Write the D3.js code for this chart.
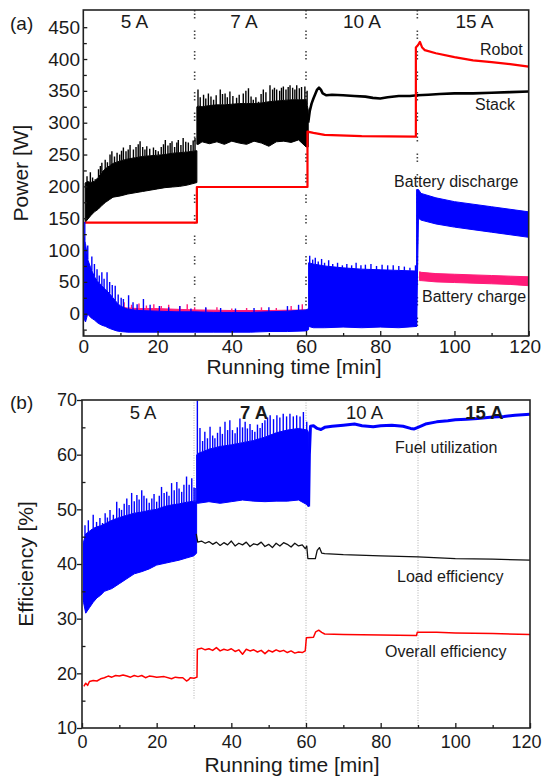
<!DOCTYPE html>
<html>
<head>
<meta charset="utf-8">
<script src="https://cdn.jsdelivr.net/npm/d3@7"></script>
<style>
  body { margin: 0; background: #fff; }
  svg { display: block; }
  text { font-family: 'Liberation Sans', Arial, sans-serif; fill: #1a1a1a; }
</style>
</head>
<body>
<svg id="chart"></svg>
<script>
/* Power (a) and efficiency (b) of the fuel cell robot vs running time */

const currents = ['5 A', '7 A', '10 A', '15 A'];
const stepTimes = [30, 60, 90];
const timeTicks = [0, 20, 40, 60, 80, 100, 120];
const timeMinor = [10, 30, 50, 70, 90, 110];
const powerTicks = [0, 50, 100, 150, 200, 250, 300, 350, 400, 450];
const powerMinor = [-25, 25, 75, 125, 175, 225, 275, 325, 375, 425];
const effTicks = [10, 20, 30, 40, 50, 60, 70];
const effMinor = [15, 25, 35, 45, 55, 65];

// --- (a) Stack power, noisy band while running at 5 A and 7 A
const stack5Time = [0.5, 1, 2, 3, 4, 5, 6, 7, 8, 10, 12, 14, 16, 18, 20, 22, 24, 26, 28, 30.6];
const stack5Lo = [143, 147, 154, 160, 164, 170, 175, 179, 183, 185, 188, 190, 192, 194, 196, 198, 199, 200, 202, 206];
const stack5Hi = [205, 208, 206, 208, 214, 222, 228, 232, 236, 240, 243, 245, 247, 248, 249, 250, 252, 253, 254, 256];
const stack5Peaks = [[1.0, 216], [1.9, 222], [2.5, 214], [3.2, 211], [4.1, 227], [4.6, 232], [5.0, 237], [5.9, 242],
  [6.5, 238], [7.2, 250], [7.7, 255], [8.4, 247], [9.1, 253], [9.8, 250], [10.3, 256], [10.8, 261], [11.5, 255],
  [12.1, 258], [12.6, 265], [13.5, 258], [14.2, 262], [14.8, 266], [15.3, 271], [16.0, 262], [16.6, 258], [17.1, 263],
  [17.9, 259], [18.9, 261], [19.5, 257], [20.2, 255], [21.0, 262], [21.6, 266], [22.1, 273], [22.8, 264], [23.4, 268],
  [23.9, 271], [24.6, 262], [25.2, 269], [25.6, 273], [26.3, 265], [26.9, 276], [27.6, 270], [28.3, 269], [29.0, 265],
  [29.6, 272], [30.1, 276]];

const stack7Time = [30.6, 31, 32, 34, 36, 38, 40, 42, 44, 46, 48, 50, 52, 54, 56, 58, 60, 60.6];
const stack7Lo = [266, 266, 270, 267, 270, 266, 271, 268, 266, 271, 268, 263, 270, 271, 269, 273, 262, 262];
const stack7Hi = [325, 326, 325, 327, 328, 328, 329, 330, 330, 330, 331, 333, 334, 335, 336, 336, 336, 320];
const stack7Peaks = [[30.9, 352], [31.5, 340], [32.4, 344], [33.0, 338], [33.7, 346], [34.4, 341], [35.1, 336],
  [35.8, 343], [36.9, 352], [37.5, 345], [38.2, 346], [38.8, 340], [39.5, 349], [40.3, 342], [41.3, 339], [42.0, 344],
  [43.1, 346], [43.8, 350], [44.5, 354], [45.2, 341], [45.8, 336], [46.5, 340], [47.2, 333], [47.9, 345], [48.5, 352],
  [49.2, 348], [50.3, 359], [51.0, 352], [51.5, 355], [52.1, 352], [52.9, 350], [53.4, 355], [53.9, 357], [54.6, 352],
  [55.2, 356], [55.7, 359], [56.4, 355], [57.0, 352], [57.5, 359], [58.2, 354], [58.8, 356], [59.7, 357], [60.3, 350]];

// stack power after it settles (10 A and 15 A)
const stackTail = [[60.6, 300], [61.0, 318], [61.5, 330], [62.0, 338], [62.5, 345], [63.0, 352], [63.5, 355],
  [64.0, 352], [64.5, 346], [65.5, 343], [67, 344], [70, 343], [73, 342], [76, 341], [78, 339], [80, 338], [82, 340],
  [85, 342], [88, 342], [90, 343], [93, 344], [96, 345], [100, 346], [105, 346], [110, 347], [115, 348], [120, 349]];

// robot power demand
const robotPower = [[0.4, 143], [30.6, 143], [30.6, 199], [60.4, 199], [60.4, 286], [62, 284], [65, 281], [75, 279],
  [89.6, 278], [89.6, 418], [90.2, 422], [90.7, 427], [91.3, 418], [92, 414], [95, 409], [100, 403], [105, 398],
  [110, 395], [115, 392], [120, 388]];

// battery discharge
const dis1Time = [0.2, 0.6, 1.2, 2, 3, 4, 5, 6, 7, 8, 9, 10, 12, 15, 20, 25, 30, 35, 40, 45, 50, 55, 60, 60.7];
const dis1Lo = [-8, -13, 0, -6, -10, -15, -18, -20, -23, -25, -27, -28, -29, -29, -29, -29, -29, -29, -29, -29, -28, -28, -27, -25];
const dis1Hi = [120, 110, 85, 72, 58, 50, 44, 38, 32, 25, 18, 12, 7, 5, 4, 3, 3, 2, 2, 2, 3, 4, 6, 8];
const dis1Peaks = [[0.4, 144], [1.2, 107], [2.3, 90], [3.0, 78], [3.7, 70], [4.3, 60], [5.0, 65], [5.6, 55], [6.4, 65],
  [7.1, 50], [7.8, 45], [8.6, 44], [9.4, 30], [10.2, 25], [10.8, 23], [12.2, 29], [13.4, 18], [14.5, 15], [16.2, 23],
  [18.0, 14], [20.5, 12], [23, 10], [26, 12], [29, 8], [33, 10], [37, 9], [41, 8], [46, 9], [50, 10], [55, 12], [58, 14]];

const dis2Time = [60.7, 62, 65, 70, 75, 80, 85, 89.8];
const dis2Lo = [-20, -22, -22, -21, -22, -21, -22, -20];
const dis2Hi = [80, 78, 75, 72, 70, 69, 68, 67];
const dis2Peaks = [[61.0, 91], [61.8, 85], [62.5, 88], [63.3, 82], [64.2, 86], [65.0, 80], [66.1, 84], [67.2, 78],
  [68.5, 80], [69.8, 76], [71, 78], [72.3, 76], [73.5, 80], [74.8, 76], [76, 77], [77.5, 78], [79, 75], [80.5, 77],
  [82, 76], [83.5, 76], [85, 75], [86.5, 74], [88, 72], [89.5, 76]];

const dis3Time = [89.8, 90.3, 91, 95, 100, 105, 110, 115, 120];
const dis3Lo = [-20, 150, 147, 141, 136, 132, 128, 124, 120];
const dis3Hi = [195, 195, 189, 182, 176, 172, 168, 164, 160];

// battery charge
const chg1Time = [0.3, 1, 2, 3, 5, 7, 9, 12, 15, 20, 30, 40, 50, 60];
const chg1Lo = [-5, 0, -5, -8, -10, -12, -12, -12, -12, -12, -12, -12, -12, -12];
const chg1Hi = [15, 28, 22, 18, 14, 11, 10, 9, 8, 8, 6, 5, 5, 6];
const chg1Peaks = [[0.8, 38], [1.3, 32], [2, 26], [2.8, 22], [3.5, 28], [4.4, 20], [5.2, 18], [6, 22], [7, 16], [8, 15],
  [9.5, 14], [11, 18], [13, 14], [15, 16], [17, 13], [19, 15], [21, 12], [23, 14], [26, 12], [28, 15], [30, 10], [33, 9],
  [36, 10], [40, 8], [44, 9], [48, 10], [52, 9], [56, 12], [59, 15]];

const chg3Time = [90.6, 91, 95, 100, 105, 110, 115, 120];
const chg3Lo = [52, 52, 50, 49, 48, 47, 46, 44];
const chg3Hi = [66, 65, 63, 62, 61, 60, 59, 58];

// --- (b) Fuel utilization, noisy band at 5 A and 7 A
const fuel5Time = [0.4, 1, 2, 3, 4, 5, 6, 8, 10, 12, 14, 16, 18, 20, 22, 24, 26, 28, 30, 30.7];
const fuel5Lo = [33, 31, 32, 33, 33.8, 34.3, 35, 35.5, 36.4, 37.3, 38.2, 38.6, 39.1, 39.8, 40.1, 40.4, 40.7, 41.1, 41.5, 42];
const fuel5Hi = [44, 45.5, 46, 46.5, 46.8, 47, 47.3, 48, 48.5, 48.9, 49.3, 49.5, 49.8, 50, 50.5, 50.8, 51, 51.3, 51.5, 51.5];
const fuel5Peaks = [[0.8, 47.1], [1.3, 45.5], [1.7, 48], [2.6, 45.9], [3.0, 49], [3.5, 46.5], [3.9, 47.7], [4.8, 48.4],
  [5.5, 47.5], [6.2, 49.3], [6.8, 48.5], [7.5, 49.9], [8.4, 49], [9.3, 51.4], [10.0, 50.2], [10.6, 49.9], [11.3, 51],
  [12.0, 52], [12.6, 50.8], [13.3, 53], [14.0, 51.5], [14.7, 52.6], [15.3, 51.8], [16.0, 53.5], [16.6, 52.5], [17.3, 52],
  [18.0, 51.2], [18.7, 52], [19.3, 52.8], [20.0, 51.4], [20.7, 52.5], [21.3, 54.1], [22.0, 53], [22.7, 53.2], [23.3, 52.5],
  [24.0, 54.8], [24.7, 53.5], [25.4, 55], [26.0, 53.8], [26.7, 53.2], [27.3, 54.5], [28.0, 56], [28.7, 54.5], [29.4, 55.7],
  [30.0, 54], [30.3, 53.9]];

const fuel7Time = [30.7, 31, 34, 37, 40, 43, 46, 49, 52, 55, 58, 60.4, 60.7];
const fuel7Lo = [51.1, 51.1, 51.4, 51.1, 51.4, 51.7, 51.5, 51.4, 51.5, 51.5, 51.7, 50.8, 50.5];
const fuel7Hi = [60, 60.2, 61, 61.5, 61.8, 62.2, 62.6, 63.2, 64, 64.5, 64.8, 64.5, 64];
const fuel7Peaks = [[30.9, 69.9], [31.6, 64.9], [32.3, 62.5], [32.9, 64.2], [33.6, 63], [34.3, 65.1], [35.0, 63.5],
  [35.6, 63], [36.3, 64], [37.0, 65.1], [37.6, 63.8], [38.3, 66], [39.0, 64.5], [39.6, 66.3], [40.3, 64.5], [41.0, 63.9],
  [41.6, 65], [42.3, 66.6], [43.0, 65], [43.7, 66], [44.3, 64.8], [45.0, 65.6], [45.6, 64.5], [46.3, 64.2], [47.0, 65.5],
  [47.7, 64.9], [48.3, 65.8], [49.0, 66.3], [49.7, 66.8], [50.4, 67.2], [51.3, 66.5], [52.2, 67.2], [53.0, 66.8],
  [53.9, 67.5], [54.8, 67], [55.7, 67.5], [56.6, 67], [57.5, 67.2], [58.4, 67], [59.3, 67.8], [60.2, 66]];

const fuelTail = [[60.7, 50.5], [60.9, 60], [61.2, 65.2], [62, 65.3], [63, 64.8], [64, 64.6], [65, 65.0], [67, 65.2],
  [70, 65.4], [73, 65.6], [75, 65.3], [78, 65.1], [80, 65.3], [83, 65.4], [86, 65.2], [88, 64.8], [89, 64.7], [90, 65.0],
  [92, 65.6], [95, 66.0], [98, 66.2], [100, 66.4], [103, 66.5], [106, 66.6], [110, 66.9], [113, 67.0], [116, 67.2],
  [120, 67.4]];

const loadEff = [[30.6, 45.5], [31, 44], [32, 44.2], [33, 43.8], [34, 44.1], [35, 43.6], [36, 44], [37, 43.4], [38, 43.9],
  [39, 43.5], [40, 44.2], [41, 43.3], [42, 43.8], [43, 43.5], [44, 44], [45, 43.2], [46, 43.7], [47, 43.5], [48, 44],
  [49, 43.2], [50, 43.6], [51, 43], [52, 43.8], [53, 43.3], [54, 43.9], [55, 43.6], [56, 43.1], [57, 43.8], [58, 43.3],
  [59, 43.5], [59.8, 42.8], [60.2, 43.3], [60.5, 41], [62.5, 41], [63, 42.5], [63.6, 43], [64.2, 42], [65, 41.9],
  [70, 41.7], [80, 41.5], [90, 41.3], [100, 41], [110, 40.9], [120, 40.7]];

const overallEff = [[0.5, 17.6], [1, 18.2], [1.5, 17.8], [2, 18.5], [3, 18.7], [4, 18.6], [5, 19], [6, 19.2], [7, 19.5],
  [8, 19.3], [9, 19.6], [10, 19.5], [11, 19.7], [12, 19.5], [13, 19.3], [14, 19.6], [15, 19.4], [16, 19.6], [17, 19.2],
  [18, 19.5], [19, 19.4], [20, 19.3], [22, 19.4], [24, 19], [25, 19.3], [26, 19.2], [27, 19.2], [28, 18.6], [28.5, 18.8],
  [29, 19.2], [30, 19.1], [30.8, 19.3], [30.9, 24.4], [32, 24.6], [33, 24.3], [34, 24.5], [35, 24.2], [36, 24.7],
  [37, 24.1], [38, 24.4], [39, 24.2], [40, 24.5], [41, 24], [42, 24.3], [43, 23.5], [44, 24.4], [45, 24.1], [46, 24.3],
  [47, 23.9], [48, 24.2], [49, 23.6], [50, 24.2], [51, 23.9], [52, 24.3], [53, 24], [54, 24.2], [55, 23.8], [56, 24.1],
  [57, 23.7], [58, 23.9], [59, 23.8], [59.8, 24.1], [60.1, 26.5], [62, 26.6], [62.6, 27.6], [63.4, 27.9], [64.2, 27.5],
  [65, 27.2], [70, 27.1], [80, 27], [89.6, 26.9], [89.8, 27.5], [95, 27.5], [100, 27.4], [110, 27.3], [120, 27.1]];

/* ---------------------------------------------------------------- */

const W = 544, H = 778;
const BLUE = '#0000ff', RED = '#ff0000', PINK = '#ff1a78', BLACK = '#000';

const translate = (x, y) => `translate(${x}, ${y})`;

const svg = d3.select('#chart').attr('width', W).attr('height', H);
const defs = svg.append('defs');

const xA = d3.scaleLinear().domain([0, 120]).range([83.3, 528.7]);
const yA = d3.scaleLinear().domain([-35, 477]).range([336, 10]);
const xB = d3.scaleLinear().domain([0, 120]).range([82, 530]);
const yB = d3.scaleLinear().domain([10, 70]).range([728, 400]);

// plot layer clipped to the frame
const plotLayer = (id, x, y) => {
  const [x0, x1] = x.range();
  const [y0, y1] = y.range();
  defs.append('clipPath').attr('id', id)
    .append('rect').attr('x', x0).attr('y', y1).attr('width', x1 - x0).attr('height', y0 - y1);
  return svg.append('g').attr('clip-path', `url(#${id})`);
};

const band = (g, x, y, time, lo, hi, color) => {
  const rows = time.map((t, i) => ({ t, lo: lo[i], hi: hi[i] }));
  g.append('path').datum(rows)
    .attr('d', d3.area().x(d => x(d.t)).y0(d => y(d.lo)).y1(d => y(d.hi)))
    .attr('fill', color).attr('stroke', color).attr('stroke-width', 1);
};

// thin spikes rising from the body of a noisy band
const spikes = (g, x, y, time, hi, peaks, color) => {
  const bodyTop = d3.scaleLinear().domain(time).range(hi).clamp(true);
  g.append('g').selectAll('line').data(peaks).join('line')
    .attr('x1', d => x(d[0])).attr('x2', d => x(d[0]))
    .attr('y1', d => y(bodyTop(d[0]))).attr('y2', d => y(d[1]))
    .attr('stroke', color).attr('stroke-width', 1.4);
};

const trace = (g, x, y, data, color, width) => {
  g.append('path').datum(data)
    .attr('d', d3.line().x(d => x(d[0])).y(d => y(d[1])))
    .attr('fill', 'none').attr('stroke', color).attr('stroke-width', width)
    .attr('stroke-linejoin', 'round');
};

const styleAxis = (a, size) => {
  a.select('.domain').remove();
  a.attr('font-size', size).attr('font-family', "'Liberation Sans', Arial, sans-serif").attr('color', '#1a1a1a');
  a.selectAll('line').attr('stroke-width', 1.3);
};

const drawAxes = (x, y, opt) => {
  const [x0, x1] = x.range();
  const [y0, y1] = y.range();

  svg.append('g').attr('transform', translate(0, y0))
    .call(d3.axisBottom(x).tickValues(timeTicks).tickSizeInner(-5).tickSizeOuter(0).tickPadding(opt.xPad))
    .call(a => styleAxis(a, opt.font))
    // last label sits at the page edge, nudge it inside
    .call(a => a.selectAll('.tick text').filter(d => d === 120).attr('dx', -4));
  svg.append('g').attr('transform', translate(0, y0))
    .call(d3.axisBottom(x).tickValues(timeMinor).tickSizeInner(-3).tickSizeOuter(0).tickFormat(''))
    .call(a => styleAxis(a, opt.font));

  svg.append('g').attr('transform', translate(x0, 0))
    .call(d3.axisLeft(y).tickValues(opt.yTicks).tickSizeInner(opt.yTick).tickSizeOuter(0).tickPadding(opt.yPad))
    .call(a => styleAxis(a, opt.font));
  svg.append('g').attr('transform', translate(x0, 0))
    .call(d3.axisLeft(y).tickValues(opt.yMinor).tickSizeInner(-3.5).tickSizeOuter(0).tickFormat(''))
    .call(a => styleAxis(a, opt.font));

  svg.append('rect')
    .attr('x', x0).attr('y', y1).attr('width', x1 - x0).attr('height', y0 - y1)
    .attr('fill', 'none').attr('stroke', '#222').attr('stroke-width', 1.6);
};

const label = (x, y, txt, size, anchor = 'middle', weight = 'normal') =>
  svg.append('text').attr('x', x).attr('y', y).attr('font-size', size)
    .attr('text-anchor', anchor).attr('font-weight', weight).text(txt);

/* ---------------- (a) Power ---------------- */

const gA = plotLayer('clipA', xA, yA);

gA.append('g').selectAll('line').data(stepTimes).join('line')
  .attr('x1', d => xA(d)).attr('x2', d => xA(d))
  .attr('y1', yA.range()[1]).attr('y2', yA.range()[0])
  .attr('stroke', '#444').attr('stroke-width', 1.6)
  .attr('stroke-dasharray', '1.5,2,1.5,2,1.5,12');

band(gA, xA, yA, stack5Time, stack5Lo, stack5Hi, BLACK);
spikes(gA, xA, yA, stack5Time, stack5Hi, stack5Peaks, BLACK);
band(gA, xA, yA, stack7Time, stack7Lo, stack7Hi, BLACK);
spikes(gA, xA, yA, stack7Time, stack7Hi, stack7Peaks, BLACK);
trace(gA, xA, yA, stackTail, BLACK, 2.6);

trace(gA, xA, yA, robotPower, RED, 2.2);

band(gA, xA, yA, chg1Time, chg1Lo, chg1Hi, PINK);
spikes(gA, xA, yA, chg1Time, chg1Hi, chg1Peaks, PINK);
band(gA, xA, yA, chg3Time, chg3Lo, chg3Hi, PINK);

band(gA, xA, yA, dis1Time, dis1Lo, dis1Hi, BLUE);
spikes(gA, xA, yA, dis1Time, dis1Hi, dis1Peaks, BLUE);
band(gA, xA, yA, dis2Time, dis2Lo, dis2Hi, BLUE);
spikes(gA, xA, yA, dis2Time, dis2Hi, dis2Peaks, BLUE);
band(gA, xA, yA, dis3Time, dis3Lo, dis3Hi, BLUE);

drawAxes(xA, yA, { font: 19, xPad: 3, yTicks: powerTicks, yMinor: powerMinor, yTick: -4, yPad: 3.3 });

const curA = [134.5, 244, 362, 474.5];
currents.forEach((c, i) => label(curA[i], 28, c, 19));
label(480, 55, 'Robot', 16, 'start');
label(475, 110, 'Stack', 16, 'start');
label(394, 187, 'Battery discharge', 16, 'start');
label(422, 302, 'Battery charge', 16, 'start');
label(10, 30, '(a)', 19, 'start');
label(294, 374, 'Running time [min]', 21);
svg.append('text').attr('transform', `${translate(28, 173)} rotate(-90)`)
  .attr('font-size', 21).attr('text-anchor', 'middle').text('Power [W]');

/* ---------------- (b) Efficiency ---------------- */

const gB = plotLayer('clipB', xB, yB);

gB.append('g').selectAll('line').data(stepTimes).join('line')
  .attr('x1', d => xB(d)).attr('x2', d => xB(d))
  .attr('y1', yB.range()[1]).attr('y2', d => (d === 30 ? 700 : yB.range()[0]))
  .attr('stroke', '#aaa').attr('stroke-width', 0.9)
  .attr('stroke-dasharray', '1,1.5');

band(gB, xB, yB, fuel5Time, fuel5Lo, fuel5Hi, BLUE);
spikes(gB, xB, yB, fuel5Time, fuel5Hi, fuel5Peaks, BLUE);
band(gB, xB, yB, fuel7Time, fuel7Lo, fuel7Hi, BLUE);
spikes(gB, xB, yB, fuel7Time, fuel7Hi, fuel7Peaks, BLUE);
trace(gB, xB, yB, fuelTail, BLUE, 3);

trace(gB, xB, yB, loadEff, '#111', 1.3);
trace(gB, xB, yB, overallEff, RED, 1.5);

drawAxes(xB, yB, { font: 18, xPad: 7.5, yTicks: effTicks, yMinor: effMinor, yTick: 5, yPad: 0 });

const curB = [143, 254, 364.5, 484.5];
const curBold = ['normal', 'bold', 'normal', 'bold'];
currents.forEach((c, i) => label(curB[i], 419, c, 18.5, 'middle', curBold[i]));
label(395, 453, 'Fuel utilization', 16, 'start');
label(397, 582, 'Load efficiency', 16, 'start');
label(385, 657, 'Overall efficiency', 16, 'start');
label(10, 409, '(b)', 19, 'start');
label(292, 772, 'Running time [min]', 21);
svg.append('text').attr('transform', `${translate(33, 564)} rotate(-90)`)
  .attr('font-size', 21).attr('text-anchor', 'middle').text('Efficiency [%]');
</script>
</body>
</html>
